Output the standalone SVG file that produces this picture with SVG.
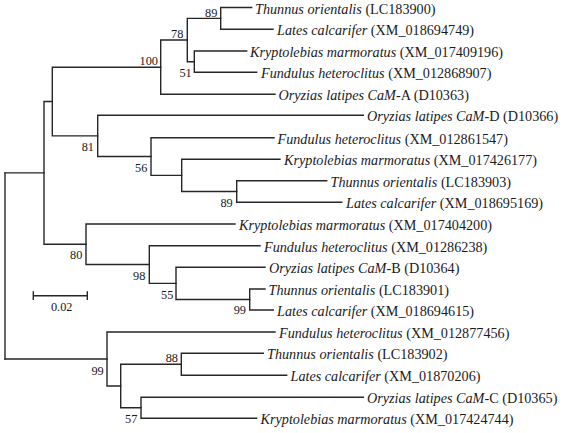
<svg xmlns="http://www.w3.org/2000/svg" width="567" height="433" viewBox="0 0 567 433">
<style>
.br{fill:none;stroke:#262626;stroke-width:1.4;stroke-linecap:square}
.lf{font-family:"Liberation Serif","Times New Roman",serif;font-size:14.2px;fill:#1a1a1a}
.lf .i{font-style:italic}
.bs{font-family:"Liberation Serif","Times New Roman",serif;font-size:12.3px;fill:#1a1a1a;text-anchor:end}
.sc{font-family:"Liberation Serif","Times New Roman",serif;font-size:12.3px;fill:#1a1a1a;text-anchor:middle}
</style>
<rect width="567" height="433" fill="#fff"/>
<g id="connectors" class="br">
<path d="M5,172.9V359"/>
<path d="M5,172.9H44M5,359H107"/>
<path d="M44,101.5V244.2M44,101.5H52.3M44,244.2H86"/>
<path d="M52.3,67.2V135.9M52.3,67.2H160.7M52.3,135.9H97.7"/>
<path d="M160.7,40V94.3M160.7,40H187.3M160.7,94.3H275"/>
<path d="M187.3,18.4V61.7M187.3,18.4H220.7M187.3,61.7H194.3"/>
<path d="M220.7,7.5V29.3M220.7,7.5H251.7M220.7,29.3H273"/>
<path d="M194.3,51V72.3M194.3,51H246.7M194.3,72.3H256.7"/>
<path d="M97.7,115.3V156.5M97.7,115.3H363.3M97.7,156.5H151"/>
<path d="M151,137.7V175.4M151,137.7H274M151,175.4H181.7"/>
<path d="M181.7,159.3V191.5M181.7,159.3H280M181.7,191.5H236.7"/>
<path d="M236.7,180.7V202.3M236.7,180.7H326.7M236.7,202.3H341.7"/>
<path d="M86,224V264.5M86,224H235M86,264.5H149.3"/>
<path d="M149.3,245.7V283.4M149.3,245.7H260M149.3,283.4H176"/>
<path d="M176,267.3V299.5M176,267.3H265M176,299.5H249.7"/>
<path d="M249.7,289V310M249.7,289H265M249.7,310H273.3"/>
<path d="M107,332V386M107,332H275M107,386H120.7"/>
<path d="M120.7,364.3V407.8M120.7,364.3H181.3M120.7,407.8H141"/>
<path d="M181.3,353.3V375.3M181.3,353.3H263.3M181.3,375.3H286.7"/>
<path d="M141,397.3V418.3M141,397.3H363.3M141,418.3H256.7"/>
<path d="M33.3,295.7H87.3M33.3,292V299.4M87.3,292V299.4"/>
</g>
<g id="leaf-thunnus-LC183900"><text class="lf" x="255" y="13.5"><tspan class="i">Thunnus orientalis</tspan> (LC183900)</text></g>
<g id="leaf-lates-XM018694749"><text class="lf" x="277" y="35.3"><tspan class="i">Lates calcarifer</tspan> (XM_018694749)</text></g>
<g id="leaf-kryptolebias-XM017409196"><text class="lf" x="250" y="57"><tspan class="i">Kryptolebias marmoratus</tspan> (XM_017409196)</text></g>
<g id="leaf-fundulus-XM012868907"><text class="lf" x="261" y="78.3"><tspan class="i">Fundulus heteroclitus</tspan> (XM_012868907)</text></g>
<g id="leaf-oryzias-CaM-A"><text class="lf" x="278.5" y="100.3"><tspan class="i">Oryzias latipes CaM</tspan>-A (D10363)</text></g>
<g id="leaf-oryzias-CaM-D"><text class="lf" x="367" y="121.3"><tspan class="i">Oryzias latipes CaM</tspan>-D (D10366)</text></g>
<g id="leaf-fundulus-XM012861547"><text class="lf" x="277.5" y="143.7"><tspan class="i">Fundulus heteroclitus</tspan> (XM_012861547)</text></g>
<g id="leaf-kryptolebias-XM017426177"><text class="lf" x="284" y="165.3"><tspan class="i">Kryptolebias marmoratus</tspan> (XM_017426177)</text></g>
<g id="leaf-thunnus-LC183903"><text class="lf" x="330.5" y="186.7"><tspan class="i">Thunnus orientalis</tspan> (LC183903)</text></g>
<g id="leaf-lates-XM018695169"><text class="lf" x="346" y="208.3"><tspan class="i">Lates calcarifer</tspan> (XM_018695169)</text></g>
<g id="leaf-kryptolebias-XM017404200"><text class="lf" x="239" y="230"><tspan class="i">Kryptolebias marmoratus</tspan> (XM_017404200)</text></g>
<g id="leaf-fundulus-XM01286238"><text class="lf" x="264" y="251.7"><tspan class="i">Fundulus heteroclitus</tspan> (XM_01286238)</text></g>
<g id="leaf-oryzias-CaM-B"><text class="lf" x="269" y="273.3"><tspan class="i">Oryzias latipes CaM</tspan>-B (D10364)</text></g>
<g id="leaf-thunnus-LC183901"><text class="lf" x="268.5" y="295"><tspan class="i">Thunnus orientalis</tspan> (LC183901)</text></g>
<g id="leaf-lates-XM018694615"><text class="lf" x="277" y="316"><tspan class="i">Lates calcarifer</tspan> (XM_018694615)</text></g>
<g id="leaf-fundulus-XM012877456"><text class="lf" x="279" y="338"><tspan class="i">Fundulus heteroclitus</tspan> (XM_012877456)</text></g>
<g id="leaf-thunnus-LC183902"><text class="lf" x="267" y="359.3"><tspan class="i">Thunnus orientalis</tspan> (LC183902)</text></g>
<g id="leaf-lates-XM01870206"><text class="lf" x="290.5" y="381.3"><tspan class="i">Lates calcarifer</tspan> (XM_01870206)</text></g>
<g id="leaf-oryzias-CaM-C"><text class="lf" x="367" y="403.3"><tspan class="i">Oryzias latipes CaM</tspan>-C (D10365)</text></g>
<g id="leaf-kryptolebias-XM017424744"><text class="lf" x="260.5" y="424.3"><tspan class="i">Kryptolebias marmoratus</tspan> (XM_017424744)</text></g>
<g id="node-89a"><text class="bs" x="217.3" y="16.5">89</text></g>
<g id="node-78"><text class="bs" x="183.3" y="37.5">78</text></g>
<g id="node-51"><text class="bs" x="191.7" y="76.5">51</text></g>
<g id="node-100"><text class="bs" x="158" y="65">100</text></g>
<g id="node-81"><text class="bs" x="94" y="151">81</text></g>
<g id="node-56"><text class="bs" x="147.3" y="171.5">56</text></g>
<g id="node-89b"><text class="bs" x="232.7" y="206.5">89</text></g>
<g id="node-80"><text class="bs" x="82.3" y="259">80</text></g>
<g id="node-98"><text class="bs" x="145.3" y="280">98</text></g>
<g id="node-55"><text class="bs" x="173.3" y="299">55</text></g>
<g id="node-99a"><text class="bs" x="246" y="314">99</text></g>
<g id="node-99b"><text class="bs" x="103.7" y="374.5">99</text></g>
<g id="node-88"><text class="bs" x="178" y="362">88</text></g>
<g id="node-57"><text class="bs" x="137.3" y="422.5">57</text></g>
<g id="scale-bar"><text class="sc" x="61.7" y="311">0.02</text></g>
</svg>
